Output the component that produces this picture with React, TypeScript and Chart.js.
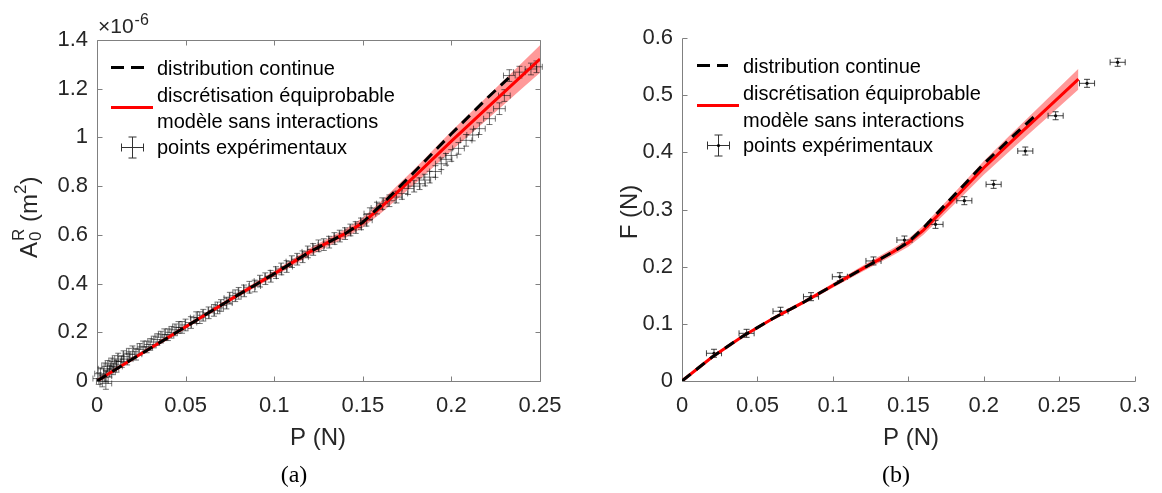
import React, { useEffect, useRef } from 'react';
import { Chart, registerables } from 'chart.js';

Chart.register(...registerables);

// ---------------- Panel (a) data : A0R (×1e-6 m²) vs P (N) ----------------
const A_X_TICKS = [0, 0.05, 0.1, 0.15, 0.2, 0.25];
const A_X_TICK_LABELS = ['0', '0.05', '0.1', '0.15', '0.2', '0.25'];
const A_Y_TICKS = [0, 0.2, 0.4, 0.6, 0.8, 1, 1.2, 1.4];
const A_Y_TICK_LABELS = ['0', '0.2', '0.4', '0.6', '0.8', '1', '1.2', '1.4'];

const A_MODEL_P = [0, 0.02, 0.04, 0.06, 0.08, 0.1, 0.12, 0.14, 0.15, 0.16, 0.18, 0.2, 0.22, 0.24, 0.25];
const A_MODEL_AREA = [0, 0.09, 0.178, 0.267, 0.355, 0.44, 0.53, 0.605, 0.65, 0.712, 0.845, 0.985, 1.12, 1.255, 1.322];
const A_MODEL_SPREAD = [0, 0.003, 0.005, 0.007, 0.009, 0.012, 0.015, 0.018, 0.02, 0.024, 0.032, 0.04, 0.047, 0.053, 0.056];

const A_CONT_P = [0, 0.02, 0.04, 0.06, 0.08, 0.1, 0.12, 0.14, 0.15, 0.16, 0.18, 0.2, 0.22, 0.235];
const A_CONT_AREA = [0, 0.09, 0.178, 0.267, 0.355, 0.44, 0.53, 0.605, 0.652, 0.72, 0.865, 1.015, 1.16, 1.262];

const A_EXP_P = [
  0.001, 0.002, 0.003, 0.004, 0.005, 0.005, 0.006, 0.007, 0.008, 0.009, 0.01, 0.011, 0.012, 0.014, 0.015,
  0.017, 0.018, 0.02, 0.022, 0.024, 0.026, 0.028, 0.03, 0.032, 0.034, 0.036, 0.038, 0.04, 0.042, 0.044,
  0.046, 0.048, 0.05, 0.053, 0.056, 0.058, 0.06, 0.063, 0.066, 0.068, 0.07, 0.073, 0.075, 0.078, 0.08,
  0.083, 0.086, 0.089, 0.092, 0.095, 0.098, 0.101, 0.104, 0.107, 0.11, 0.113, 0.116, 0.119, 0.122, 0.125,
  0.128, 0.131, 0.134, 0.137, 0.14, 0.143, 0.146, 0.149, 0.152, 0.154, 0.158, 0.161, 0.165, 0.169, 0.172,
  0.1755, 0.179, 0.182, 0.185, 0.1877, 0.191, 0.1943, 0.197, 0.1999, 0.204, 0.2083, 0.212, 0.2158, 0.2215,
  0.2271, 0.2299, 0.2327, 0.2384, 0.2449, 0.248,
];
const A_EXP_AREA = [
  0.01, 0.03, 0.0, 0.05, 0.02, -0.01, 0.06, 0.04, 0.07, 0.05, 0.08, 0.06, 0.09, 0.08, 0.1,
  0.09, 0.11, 0.12, 0.11, 0.13, 0.14, 0.14, 0.15, 0.16, 0.17, 0.18, 0.19, 0.19, 0.2, 0.21,
  0.22, 0.22, 0.23, 0.24, 0.26, 0.26, 0.27, 0.28, 0.29, 0.3, 0.31, 0.32, 0.34, 0.35, 0.36,
  0.37, 0.385, 0.39, 0.41, 0.42, 0.43, 0.445, 0.46, 0.47, 0.49, 0.5, 0.51, 0.53, 0.54, 0.555,
  0.56, 0.57, 0.585, 0.595, 0.605, 0.62, 0.63, 0.645, 0.66, 0.687, 0.71, 0.728, 0.74, 0.755, 0.77,
  0.79, 0.8, 0.81, 0.825, 0.837, 0.86, 0.892, 0.91, 0.926, 0.955, 0.988, 1.01, 1.036, 1.077,
  1.118, 1.172, 1.254, 1.268, 1.281, 1.29,
];
const A_EXP_P_ERR = 0.0033;
const A_EXP_AREA_ERR = 0.024;

// ---------------- Panel (b) data : F (N) vs P (N) ----------------
const B_X_TICKS = [0, 0.05, 0.1, 0.15, 0.2, 0.25, 0.3];
const B_X_TICK_LABELS = ['0', '0.05', '0.1', '0.15', '0.2', '0.25', '0.3'];
const B_Y_TICKS = [0, 0.1, 0.2, 0.3, 0.4, 0.5, 0.6];
const B_Y_TICK_LABELS = ['0', '0.1', '0.2', '0.3', '0.4', '0.5', '0.6'];

const B_MODEL_P = [0, 0.02, 0.04, 0.06, 0.08, 0.1, 0.12, 0.14, 0.15, 0.16, 0.18, 0.2, 0.22, 0.24, 0.2627];
const B_MODEL_F = [0, 0.042, 0.078, 0.109, 0.137, 0.167, 0.197, 0.226, 0.242, 0.264, 0.318, 0.373, 0.423, 0.472, 0.528];
const B_MODEL_SPREAD = [0, 0.001, 0.002, 0.002, 0.003, 0.004, 0.005, 0.006, 0.007, 0.008, 0.01, 0.012, 0.014, 0.016, 0.018];

const B_CONT_P = [0, 0.02, 0.04, 0.06, 0.08, 0.1, 0.12, 0.14, 0.15, 0.16, 0.18, 0.2, 0.22, 0.234];
const B_CONT_F = [0, 0.042, 0.078, 0.109, 0.137, 0.167, 0.197, 0.226, 0.243, 0.268, 0.324, 0.38, 0.43, 0.464];

const B_EXP_P = [0.0212, 0.0428, 0.0653, 0.0855, 0.1046, 0.1269, 0.1474, 0.168, 0.1871, 0.2065, 0.2275, 0.2476, 0.2684, 0.2887];
const B_EXP_F = [0.0485, 0.0834, 0.122, 0.1475, 0.1824, 0.21, 0.2466, 0.274, 0.3154, 0.344, 0.4023, 0.464, 0.5207, 0.5575];
const B_EXP_P_ERR = 0.005;
const B_EXP_F_ERR = 0.007;

const LEGEND_LABELS = ['distribution continue', 'discrétisation équiprobable', 'modèle sans interactions', 'points expérimentaux'];

// ---------------- styling ----------------
const W = 1162;
const H = 493;
const FONT = "'Liberation Sans', Arial, Helvetica, sans-serif";
const SERIF = "'Liberation Serif', 'Times New Roman', serif";
const TXT = '#262626';
const AXIS = '#808080';
const RED = '#ff0000';
const BAND = 'rgba(255,0,0,0.4)';
const DASH = [11, 7];

const zip = (xs: number[], ys: number[]) => xs.map((x, i) => ({ x, y: ys[i] }));

type Panel = {
  area: { left: number; right: number; top: number; bottom: number };
  xMax: number;
  yMax: number;
  xTicks: number[];
  xLabels: string[];
  yTicks: number[];
  yLabels: string[];
  modelX: number[];
  modelY: number[];
  spread: number[];
  contX: number[];
  contY: number[];
  expX: number[];
  expY: number[];
  expXErr: number;
  expYErr: number;
  expCap: number;
  expColor: string;
  dot: number;
  box: boolean;
  decor: (ctx: CanvasRenderingContext2D) => void;
};

function errBar(ctx: CanvasRenderingContext2D, cx: number, cy: number, x1: number, x2: number, y1: number, y2: number, cap: number) {
  ctx.moveTo(x1, cy); ctx.lineTo(x2, cy);
  ctx.moveTo(x1, cy - cap); ctx.lineTo(x1, cy + cap);
  ctx.moveTo(x2, cy - cap); ctx.lineTo(x2, cy + cap);
  ctx.moveTo(cx, y1); ctx.lineTo(cx, y2);
  ctx.moveTo(cx - cap, y1); ctx.lineTo(cx + cap, y1);
  ctx.moveTo(cx - cap, y2); ctx.lineTo(cx + cap, y2);
}

function drawLegend(ctx: CanvasRenderingContext2D, o: {
  dashX1: number; dashX2: number; dashY: number; redX2: number; redY: number;
  textX: number; baselines: number[]; ebX: number; ebY: number; dot: boolean;
}) {
  ctx.save();
  ctx.lineWidth = 3;
  ctx.strokeStyle = '#000';
  ctx.setLineDash([13, 7]);
  ctx.beginPath(); ctx.moveTo(o.dashX1, o.dashY); ctx.lineTo(o.dashX2, o.dashY); ctx.stroke();
  ctx.setLineDash([]);
  ctx.strokeStyle = RED;
  ctx.beginPath(); ctx.moveTo(o.dashX1, o.redY); ctx.lineTo(o.redX2, o.redY); ctx.stroke();
  ctx.lineWidth = 1;
  ctx.strokeStyle = '#333';
  ctx.beginPath();
  errBar(ctx, o.ebX, o.ebY, o.ebX - 11, o.ebX + 11, o.ebY - 10.5, o.ebY + 10.5, 4);
  ctx.stroke();
  if (o.dot) {
    ctx.fillStyle = '#000';
    ctx.beginPath(); ctx.arc(o.ebX, o.ebY, 1.6, 0, Math.PI * 2); ctx.fill();
  }
  ctx.fillStyle = '#000';
  ctx.font = `20px ${FONT}`;
  ctx.textAlign = 'left';
  ctx.textBaseline = 'alphabetic';
  LEGEND_LABELS.forEach((t, i) => ctx.fillText(t, o.textX, o.baselines[i]));
  ctx.restore();
}

const PANEL_A: Panel = {
  area: { left: 97, right: 540, top: 40, bottom: 381 },
  xMax: 0.25,
  yMax: 1.4,
  xTicks: A_X_TICKS,
  xLabels: A_X_TICK_LABELS,
  yTicks: A_Y_TICKS,
  yLabels: A_Y_TICK_LABELS,
  modelX: A_MODEL_P,
  modelY: A_MODEL_AREA,
  spread: A_MODEL_SPREAD,
  contX: A_CONT_P,
  contY: A_CONT_AREA,
  expX: A_EXP_P,
  expY: A_EXP_AREA,
  expXErr: A_EXP_P_ERR,
  expYErr: A_EXP_AREA_ERR,
  expCap: 3,
  expColor: 'rgba(0,0,0,0.55)',
  dot: 0,
  box: true,
  decor: (ctx) => {
    ctx.save();
    ctx.fillStyle = TXT;
    ctx.textBaseline = 'alphabetic';
    // exponent
    ctx.font = `21px ${FONT}`;
    ctx.textAlign = 'left';
    ctx.fillText('×10', 98, 33);
    const w10 = ctx.measureText('×10').width;
    ctx.font = `16px ${FONT}`;
    ctx.fillText('-6', 98 + w10 + 1, 25);
    // x title
    ctx.font = `24px ${FONT}`;
    ctx.textAlign = 'center';
    ctx.fillText('P (N)', 318, 445);
    // y title (rotated)
    ctx.translate(37, 258);
    ctx.rotate(-Math.PI / 2);
    ctx.textAlign = 'left';
    ctx.font = `24px ${FONT}`;
    ctx.fillText('A', 0, 0);
    let x = ctx.measureText('A').width + 1;
    ctx.font = `17px ${FONT}`;
    ctx.fillText('0', x, 4);
    ctx.fillText('R', x, -13);
    x += Math.max(ctx.measureText('0').width, ctx.measureText('R').width);
    ctx.font = `24px ${FONT}`;
    ctx.fillText(' (m', x, 0);
    x += ctx.measureText(' (m').width;
    ctx.font = `17px ${FONT}`;
    ctx.fillText('2', x, -11);
    x += ctx.measureText('2').width;
    ctx.font = `24px ${FONT}`;
    ctx.fillText(')', x, 0);
    ctx.restore();
    // subfigure letter
    ctx.save();
    ctx.fillStyle = '#000';
    ctx.font = `24px ${SERIF}`;
    ctx.textAlign = 'center';
    ctx.fillText('(a)', 294, 482);
    ctx.restore();
    drawLegend(ctx, {
      dashX1: 111, dashX2: 144, dashY: 67.5, redX2: 153, redY: 107.5,
      textX: 157, baselines: [75, 102, 128, 154], ebX: 132.5, ebY: 147.5, dot: false,
    });
  },
};

const PANEL_B: Panel = {
  area: { left: 682, right: 1140, top: 38, bottom: 381 },
  xMax: 0.3,
  yMax: 0.6,
  xTicks: B_X_TICKS,
  xLabels: B_X_TICK_LABELS,
  yTicks: B_Y_TICKS,
  yLabels: B_Y_TICK_LABELS,
  modelX: B_MODEL_P,
  modelY: B_MODEL_F,
  spread: B_MODEL_SPREAD,
  contX: B_CONT_P,
  contY: B_CONT_F,
  expX: B_EXP_P,
  expY: B_EXP_F,
  expXErr: B_EXP_P_ERR,
  expYErr: B_EXP_F_ERR,
  expCap: 3,
  expColor: 'rgba(20,20,20,0.8)',
  dot: 1.6,
  box: false,
  decor: (ctx) => {
    ctx.save();
    ctx.fillStyle = TXT;
    ctx.textBaseline = 'alphabetic';
    ctx.font = `24px ${FONT}`;
    ctx.textAlign = 'center';
    ctx.fillText('P (N)', 911, 445);
    ctx.translate(637, 212);
    ctx.rotate(-Math.PI / 2);
    ctx.fillText('F (N)', 0, 0);
    ctx.restore();
    ctx.save();
    ctx.fillStyle = '#000';
    ctx.font = `24px ${SERIF}`;
    ctx.textAlign = 'center';
    ctx.fillText('(b)', 896, 482);
    ctx.restore();
    drawLegend(ctx, {
      dashX1: 697, dashX2: 728, dashY: 65.5, redX2: 739, redY: 105.5,
      textX: 743, baselines: [72.5, 100, 126.5, 152], ebX: 718.5, ebY: 145.5, dot: true,
    });
  },
};

function buildConfig(p: Panel): any {
  const upper = p.modelX.map((x, i) => ({ x, y: p.modelY[i] + p.spread[i] }));
  const lower = p.modelX.map((x, i) => ({ x, y: p.modelY[i] - p.spread[i] }));
  const Y_W = 60;
  const X_H = 40;
  const padding = {
    left: p.area.left - Y_W,
    right: W - p.area.right,
    top: p.area.top,
    bottom: H - p.area.bottom - X_H,
  };

  const plugin = {
    id: 'panelDecor',
    beforeDatasetsDraw(chart: any) {
      const ctx: CanvasRenderingContext2D = chart.ctx;
      const a = chart.chartArea;
      const xs = chart.scales.x;
      const ys = chart.scales.y;
      const L = Math.round(a.left) + 0.5;
      const R = Math.round(a.right) + 0.5;
      const T = Math.round(a.top) + 0.5;
      const B = Math.round(a.bottom) + 0.5;
      ctx.save();
      ctx.strokeStyle = AXIS;
      ctx.lineWidth = 1;
      ctx.beginPath();
      ctx.moveTo(L, T); ctx.lineTo(L, B); ctx.lineTo(R, B);
      if (p.box) { ctx.lineTo(R, T); ctx.lineTo(L, T); }
      p.xTicks.forEach((v) => {
        const px = Math.round(xs.getPixelForValue(v)) + 0.5;
        ctx.moveTo(px, B); ctx.lineTo(px, B - 5);
        if (p.box) { ctx.moveTo(px, T); ctx.lineTo(px, T + 5); }
      });
      p.yTicks.forEach((v) => {
        const py = Math.round(ys.getPixelForValue(v)) + 0.5;
        ctx.moveTo(L, py); ctx.lineTo(L + 5, py);
        if (p.box) { ctx.moveTo(R, py); ctx.lineTo(R - 5, py); }
      });
      ctx.stroke();
      ctx.restore();
    },
    afterDatasetDraw(chart: any, args: any) {
      if (args.index !== 2) return;
      const ctx: CanvasRenderingContext2D = chart.ctx;
      const xs = chart.scales.x;
      const ys = chart.scales.y;
      ctx.save();
      ctx.strokeStyle = p.expColor;
      ctx.lineWidth = 1;
      p.expX.forEach((vx, i) => {
        const vy = p.expY[i];
        const cx = xs.getPixelForValue(vx);
        const cy = ys.getPixelForValue(vy);
        ctx.beginPath();
        errBar(
          ctx, cx, cy,
          xs.getPixelForValue(vx - p.expXErr), xs.getPixelForValue(vx + p.expXErr),
          ys.getPixelForValue(vy + p.expYErr), ys.getPixelForValue(vy - p.expYErr),
          p.expCap,
        );
        ctx.stroke();
      });
      ctx.restore();
    },
    afterDraw(chart: any) {
      p.decor(chart.ctx);
    },
  };

  const tickFont = { family: FONT, size: 22 };

  return {
    type: 'line',
    data: {
      datasets: [
        { data: upper, borderColor: 'rgba(0,0,0,0)', borderWidth: 0, pointRadius: 0, fill: '+1', backgroundColor: BAND, order: 5 },
        { data: lower, borderColor: 'rgba(0,0,0,0)', borderWidth: 0, pointRadius: 0, fill: false, order: 5 },
        {
          data: zip(p.expX, p.expY), showLine: false, pointRadius: p.dot, pointBackgroundColor: '#000',
          pointBorderWidth: 0, borderColor: 'rgba(0,0,0,0)', order: 3,
        },
        { data: zip(p.modelX, p.modelY), borderColor: RED, borderWidth: 3, pointRadius: 0, fill: false, order: 2 },
        { data: zip(p.contX, p.contY), borderColor: '#000', borderWidth: 3, borderDash: DASH, pointRadius: 0, fill: false, order: 1 },
      ],
    },
    options: {
      responsive: false,
      animation: false,
      events: [],
      layout: { padding },
      plugins: { legend: { display: false }, tooltip: { enabled: false }, title: { display: false } },
      scales: {
        x: {
          type: 'linear',
          min: 0,
          max: p.xMax,
          grid: { display: false, drawTicks: false },
          border: { display: false },
          afterFit: (s: any) => { s.height = X_H; },
          afterBuildTicks: (s: any) => { s.ticks = p.xTicks.map((v) => ({ value: v })); },
          ticks: {
            autoSkip: false,
            maxRotation: 0,
            padding: 12,
            color: TXT,
            font: tickFont,
            callback: (_v: any, i: number) => p.xLabels[i],
          },
        },
        y: {
          type: 'linear',
          min: 0,
          max: p.yMax,
          grid: { display: false, drawTicks: false },
          border: { display: false },
          afterFit: (s: any) => { s.width = Y_W; },
          afterBuildTicks: (s: any) => { s.ticks = p.yTicks.map((v) => ({ value: v })); },
          ticks: {
            autoSkip: false,
            padding: 9,
            color: TXT,
            font: tickFont,
            callback: (_v: any, i: number) => p.yLabels[i],
          },
        },
      },
    },
    plugins: [plugin],
  };
}

function PanelChart({ panel }: { panel: Panel }) {
  const ref = useRef<HTMLCanvasElement | null>(null);
  useEffect(() => {
    if (!ref.current) return;
    const chart = new Chart(ref.current, buildConfig(panel));
    return () => chart.destroy();
  }, [panel]);
  return (
    <canvas
      ref={ref}
      width={W}
      height={H}
      style={{ position: 'absolute', left: 0, top: 0, width: W, height: H }}
    />
  );
}

export default function App() {
  return (
    <div style={{ position: 'fixed', left: 0, top: 0, width: W, height: H, background: '#fff' }}>
      <PanelChart panel={PANEL_A} />
      <PanelChart panel={PANEL_B} />
    </div>
  );
}
